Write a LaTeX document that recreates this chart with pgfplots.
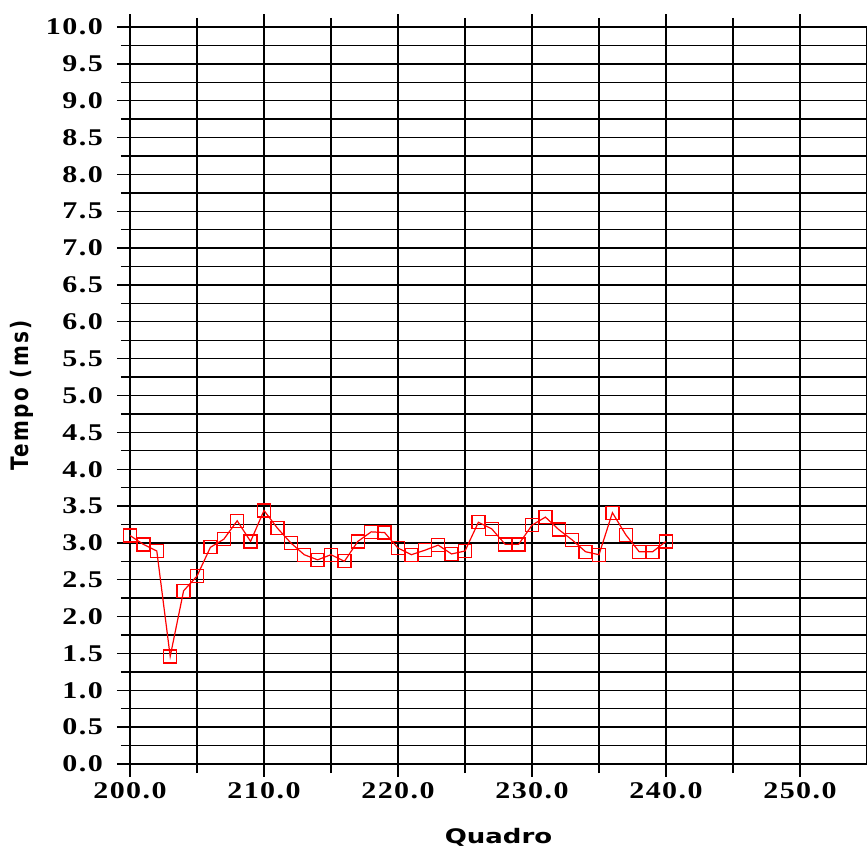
\documentclass[border=0pt]{standalone}
\usepackage{fontspec}
\usepackage{pgfplots}
\pgfplotsset{compat=1.18}
\newfontfamily\tickfont[FakeStretch=1.25,LetterSpace=6]{Liberation Serif}
\newfontfamily\labfont[FakeStretch=1.3]{DejaVu Sans}
\newfontfamily\ylabfont[LetterSpace=12]{DejaVu Sans}
\begin{document}
\begin{tikzpicture}
\begin{axis}[
  scale only axis,
  width=737pt, height=737pt,
  xmin=200, xmax=255, ymin=0, ymax=10,
  xtick={200,210,...,250}, minor x tick num=1,
  ytick={0,0.5,...,10}, minor y tick num=1,
  grid=both,
  major grid style={black, line width=1.4pt},
  minor grid style={black, line width=1.4pt},
  axis line style={black, line width=1.4pt},
  tick style={black, line width=1.4pt},
  tick align=outside,
  major tick length=13pt, minor tick length=9pt,
  xtick pos=both, ytick pos=left,
  /pgf/number format/assume math mode=true,
  xticklabel={\pgfmathprintnumber[fixed,fixed zerofill,precision=1]{\tick}},
  yticklabel={\pgfmathprintnumber[fixed,fixed zerofill,precision=1]{\tick}},
  ticklabel style={font=\tickfont\bfseries\fontsize{24}{26}\selectfont, inner sep=0pt},
  yticklabel style={xshift=-14pt},
  xticklabel style={yshift=-5pt},
  xlabel={Quadro},
  ylabel={\scalebox{1}[1.2]{Tempo (ms)}},
  xlabel style={font=\labfont\bfseries\fontsize{20}{22}\selectfont, at={(axis description cs:0.5,-0.099)}, anchor=center},
  ylabel style={font=\ylabfont\bfseries\fontsize{20}{22}\selectfont, at={(axis description cs:-0.1465,0.5)}, anchor=center, rotate=0},
  clip=false,
]
\coordinate (O) at (rel axis cs:0,0);
\addplot[red, line width=1.2pt, mark=square, mark size=6.5pt, mark options={solid, line width=1.3pt, fill=none}] coordinates {
(200,3.10) (201,2.98) (202,2.89) (203,1.46) (204,2.35) (205,2.55) (206,2.94) (207,3.05) (208,3.30) (209,3.02)
(210,3.44) (211,3.20) (212,3.00) (213,2.84) (214,2.77) (215,2.84) (216,2.75) (217,3.02) (218,3.15) (219,3.14)
(220,2.93) (221,2.84) (222,2.90) (223,2.97) (224,2.85) (225,2.89) (226,3.28) (227,3.19) (228,2.98) (229,2.98)
(230,3.24) (231,3.35) (232,3.18) (233,3.04) (234,2.88) (235,2.84) (236,3.41) (237,3.11) (238,2.88) (239,2.88)
(240,3.02)
};
\end{axis}
\pgfresetboundingbox
\path[use as bounding box] (O) ++(-130pt,-88pt) rectangle ++(867pt,852pt);
\end{tikzpicture}
\end{document}
